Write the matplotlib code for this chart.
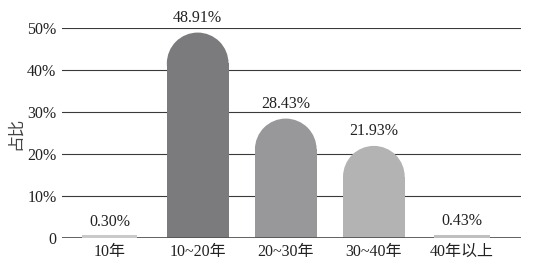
import matplotlib.pyplot as plt
from matplotlib.patches import Ellipse

# 数据
categorias = ['10年', '10~20年', '20~30年', '30~40年', '40年以上']
valores = [0.30, 48.91, 28.43, 21.93, 0.43]
etiquetas = ['0.30%', '48.91%', '28.43%', '21.93%', '0.43%']
colores = ['#c9c9c9', '#7b7b7d', '#98989a', '#b3b3b4', '#bfbfbf']
yticks = [0, 10, 20, 30, 40, 50]
ytick_labels = ['0', '10%', '20%', '30%', '40%', '50%']

plt.rcParams['font.family'] = ['Liberation Serif', 'Noto Sans CJK SC']

W, H = 538, 267
fig = plt.figure(figsize=(W / 100, H / 100), dpi=100)
izq, der, abajo, arriba = 62, 521, 238, 28
ax = fig.add_axes([izq / W, (H - abajo) / H, (der - izq) / W, (abajo - arriba) / H])

xlim = (-0.54, 4.67)
ylim = (0, 50)
ax.set_xlim(*xlim)
ax.set_ylim(*ylim)

ancho = 0.7
# escala pixel -> datos para el semicirculo superior
px_x = (der - izq) / (xlim[1] - xlim[0])
px_y = (abajo - arriba) / (ylim[1] - ylim[0])
ry = (ancho / 2) * px_x / px_y

for i, (v, c) in enumerate(zip(valores, colores)):
    if v > ry:
        ax.bar(i, v - ry, width=ancho, color=c, linewidth=0, zorder=3)
        ax.add_patch(Ellipse((i, v - ry), ancho, 2 * ry, color=c, linewidth=0, zorder=3))
    else:
        ax.bar(i, 0.75, width=ancho * 0.9, color=c, linewidth=0, zorder=5)
    ax.annotate(etiquetas[i], (i, v), xytext=(0, 5), textcoords='offset points',
                ha='center', va='bottom', fontsize=11.5, color='#222222', annotation_clip=False)

for y in yticks[1:]:
    ax.axhline(y, color='#3a3a3a', linewidth=0.8, zorder=1)
ax.axhline(0, color='#555555', linewidth=1.3, zorder=4)

for s in ax.spines.values():
    s.set_visible(False)

ax.set_yticks(yticks)
ax.set_yticklabels(ytick_labels, fontsize=11.5, color='#222222')
ax.set_xticks(range(len(categorias)))
ax.set_xticklabels(categorias, fontsize=11.5, color='#222222')
ax.tick_params(axis='both', length=0)
ax.tick_params(axis='y', pad=4)
ax.tick_params(axis='x', pad=4)
ax.set_ylabel('占比', fontsize=12, color='#444444', labelpad=2)

fig.savefig('out.png', dpi=100)
